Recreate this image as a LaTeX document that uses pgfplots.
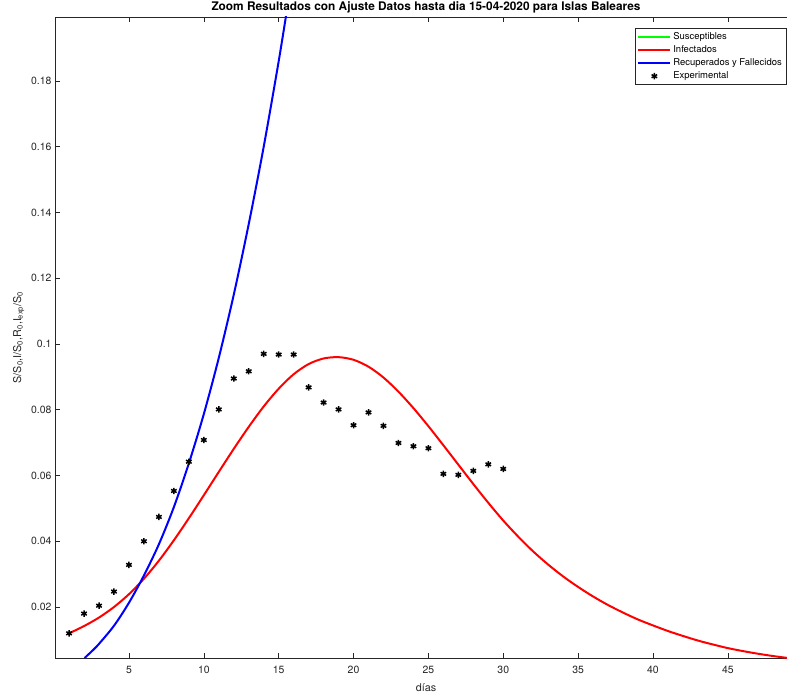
\documentclass[border=0pt]{standalone}
\usepackage{fontspec}
\setmainfont{TeX Gyre Heros}
\usepackage{pgfplots}
\pgfplotsset{compat=1.18}
\definecolor{axgray}{HTML}{262626}
\definecolor{mgreen}{HTML}{00FF00}
\definecolor{mred}{HTML}{FF0000}
\definecolor{mblue}{HTML}{0000FF}
\begin{document}
\begin{tikzpicture}
\begin{axis}[
  at={(0,0)}, anchor=south west,
  scale only axis,
  width=742bp, height=641bp,
  xmin=0.06, xmax=49.62,
  ymin=0.00449, ymax=0.19947,
  xtick={5,10,...,45},
  ytick={0.02,0.04,...,0.18},
  scaled y ticks=false,
  yticklabel style={/pgf/number format/fixed,/pgf/number format/precision=2},
  xticklabel style={yshift=-5bp},
  /pgf/number format/assume math mode=true,
  tick label style={font=\fontsize{10.5}{12}\selectfont, text=axgray},
  axis line style={axgray, line width=0.6bp},
  every tick/.style={axgray, line width=0.6bp},
  major tick length=5bp,
  tick align=inside,
  title={Zoom Resultados con Ajuste Datos hasta dia 15-04-2020 para Islas Baleares},
  title style={font=\bfseries\fontsize{11.9}{13}\selectfont, yshift=-6bp},
  xlabel={días},
  ylabel={S/S\textsubscript{0},I/S\textsubscript{0},R\textsubscript{0},I\textsubscript{exp}/S\textsubscript{0}},
  label style={font=\fontsize{10.8}{13}\selectfont, text=axgray},
  xlabel style={yshift=-3bp},
  legend style={at={(1,1)}, anchor=north east, xshift=-11bp, yshift=-11bp,
    font=\fontsize{9.5}{11}\selectfont, draw=axgray, line width=0.5bp,
    row sep=0.8bp, inner sep=2bp},
  legend cell align=left,
  legend image code/.code={\draw[mark repeat=2,mark phase=2,#1] plot coordinates {(0bp,0bp) (16bp,0bp) (32bp,0bp)};},
]
\addlegendimage{mgreen, line width=2bp}
\addlegendentry{Susceptibles}
\addplot[mred, line width=2bp, smooth] coordinates {
(1,0.0120) (2,0.0142) (3,0.0168) (4,0.0200) (5,0.0239) (6,0.0286) (7,0.0341)
(8,0.0403) (9,0.0470) (10,0.0540) (11,0.0611) (12,0.0681) (13,0.0748)
(14,0.0810) (15,0.0864) (16,0.0908) (17,0.0939) (18,0.0956) (19,0.0960)
(20,0.0952) (21,0.0931) (22,0.0898) (23,0.0855) (24,0.0805) (25,0.0750)
(26,0.0692) (27,0.0633) (28,0.0574) (29,0.0517) (30,0.0463) (31,0.0414)
(32,0.0369) (33,0.0329) (34,0.0293) (35,0.0261) (36,0.0232) (37,0.0206)
(38,0.0183) (39,0.0162) (40,0.0144) (41,0.0127) (42,0.0112) (43,0.0098)
(44,0.0086) (45,0.0075) (46,0.0066) (47,0.0058) (48,0.0051) (49,0.0045) (50,0.0040)};
\addlegendentry{Infectados}
\addplot[mblue, line width=2bp, smooth] coordinates {
(2.04,0.0045) (2.6,0.0069) (3,0.0088) (4,0.0143) (5,0.0213) (6,0.0296)
(7,0.0391) (8,0.0504) (9,0.0637) (10,0.0787) (11,0.0958) (12,0.1150)
(13,0.1365) (14,0.1600) (15,0.1860) (15.6,0.2030)};
\addlegendentry{Recuperados y Fallecidos}
\addplot[only marks, mark=asterisk, mark size=3.2bp, mark options={line width=1.5bp, black}] coordinates {
(1,0.0120) (2,0.0180) (3,0.0204) (4,0.0247) (5,0.0328) (6,0.0400) (7,0.0474)
(8,0.0553) (9,0.0642) (10,0.0708) (11,0.0801) (12,0.0895) (13,0.0917)
(14,0.0970) (15,0.0968) (16,0.0968) (17,0.0868) (18,0.0822) (19,0.0801)
(20,0.0753) (21,0.0792) (22,0.0751) (23,0.0699) (24,0.0689) (25,0.0683)
(26,0.0605) (27,0.0602) (28,0.0614) (29,0.0634) (30,0.0620)};
\addlegendentry{Experimental}
\end{axis}
\pgfresetboundingbox
\path (-55bp,-36bp) rectangle (732bp,658bp);
\end{tikzpicture}
\end{document}
